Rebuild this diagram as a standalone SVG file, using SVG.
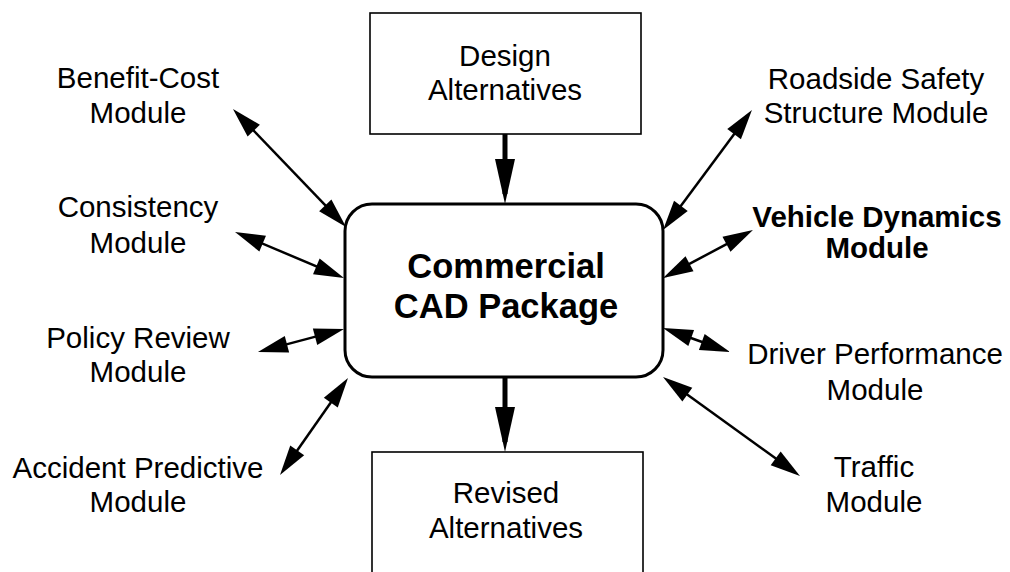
<svg xmlns="http://www.w3.org/2000/svg" width="1010" height="572" viewBox="0 0 1010 572">
  <style>
    .lbl { font-family: "Liberation Sans", Arial, Helvetica, sans-serif; font-size: 29.5px; fill: #000; text-anchor: middle; }
    .bold { font-weight: bold; }
    .core { font-family: "Liberation Sans", Arial, Helvetica, sans-serif; font-size: 34.5px; font-weight: bold; fill: #000; text-anchor: middle; }
    .box { fill: #fff; stroke: #000; stroke-width: 1.6; }
    .hub { fill: #fff; stroke: #000; stroke-width: 3; }
    .link { stroke: #000; stroke-width: 2.5; fill: none; marker-start: url(#head); marker-end: url(#head); }
    .flow { stroke: #000; stroke-width: 5; fill: none; marker-end: url(#bighead); }
  </style>
  <defs>
    <marker id="head" markerUnits="userSpaceOnUse" markerWidth="30" markerHeight="17" refX="22" refY="8.5" orient="auto-start-reverse" overflow="visible">
      <path d="M0,0 L30,8.5 L0,17 z" fill="#000"/>
    </marker>
    <marker id="bighead" markerUnits="userSpaceOnUse" markerWidth="45" markerHeight="20" refX="35" refY="10" orient="auto" overflow="visible">
      <path d="M0,0 L45,10 L0,20 z" fill="#000"/>
    </marker>
  </defs>
  <rect width="1010" height="572" fill="#fff"/>

  <g id="connectors">
    <line class="flow" x1="505" y1="134" x2="505" y2="194"/>
    <line class="flow" x1="505" y1="377" x2="505" y2="442"/>
    <line class="link" x1="238.5" y1="114.8" x2="340.5" y2="221.2"/>
    <line class="link" x1="242.4" y1="235.1" x2="336.6" y2="274.9"/>
    <line class="link" x1="265.7" y1="349.9" x2="336.3" y2="331.1"/>
    <line class="link" x1="284.6" y1="468.5" x2="343.4" y2="384.5"/>
    <line class="link" x1="747.2" y1="116.4" x2="667.8" y2="223.6"/>
    <line class="link" x1="745.9" y1="233.8" x2="670.1" y2="274.2"/>
    <line class="link" x1="722.5" y1="349.3" x2="670.5" y2="330.7"/>
    <line class="link" x1="793.5" y1="471.3" x2="669.5" y2="381.7"/>
  </g>

  <g id="design-alternatives">
    <rect class="box" x="370" y="13" width="271" height="121"/>
    <text class="lbl" x="505" y="66">Design</text>
    <text class="lbl" x="505" y="100">Alternatives</text>
  </g>

  <g id="cad-package">
    <rect class="hub" x="345" y="204" width="318" height="173" rx="27" ry="27"/>
    <text class="core" x="506" y="278">Commercial</text>
    <text class="core" x="506" y="318">CAD Package</text>
  </g>

  <g id="revised-alternatives">
    <rect class="box" x="372" y="452" width="271" height="140"/>
    <text class="lbl" x="506" y="503">Revised</text>
    <text class="lbl" x="506" y="538">Alternatives</text>
  </g>

  <g id="benefit-cost">
    <text class="lbl" x="138" y="88">Benefit-Cost</text>
    <text class="lbl" x="138" y="123">Module</text>
  </g>

  <g id="consistency">
    <text class="lbl" x="138" y="217">Consistency</text>
    <text class="lbl" x="138" y="253">Module</text>
  </g>

  <g id="policy-review">
    <text class="lbl" x="138" y="348">Policy Review</text>
    <text class="lbl" x="138" y="382">Module</text>
  </g>

  <g id="accident-predictive">
    <text class="lbl" x="138" y="478">Accident Predictive</text>
    <text class="lbl" x="138" y="512">Module</text>
  </g>

  <g id="roadside-safety">
    <text class="lbl" x="876" y="89">Roadside Safety</text>
    <text class="lbl" x="876" y="123">Structure Module</text>
  </g>

  <g id="vehicle-dynamics">
    <text class="lbl bold" x="877" y="227">Vehicle Dynamics</text>
    <text class="lbl bold" x="877" y="258">Module</text>
  </g>

  <g id="driver-performance">
    <text class="lbl" x="875" y="364">Driver Performance</text>
    <text class="lbl" x="875" y="400">Module</text>
  </g>

  <g id="traffic">
    <text class="lbl" x="874" y="477">Traffic</text>
    <text class="lbl" x="874" y="512">Module</text>
  </g>
</svg>
